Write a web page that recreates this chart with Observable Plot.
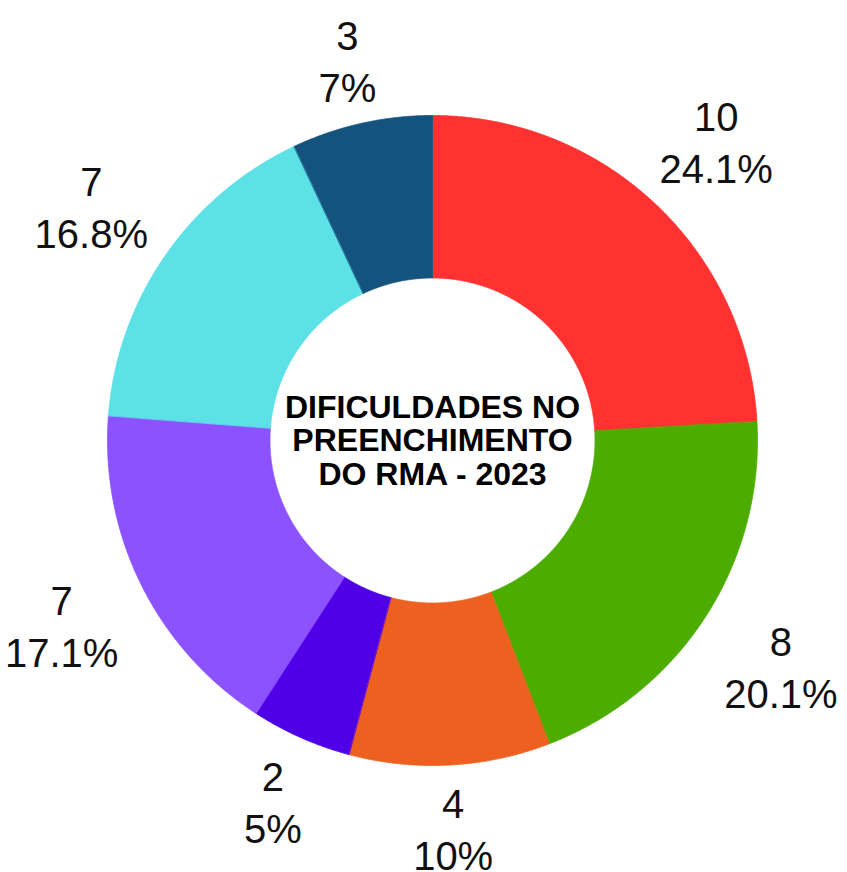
<!DOCTYPE html>
<html>
<head>
<meta charset="utf-8">
<script src="https://cdn.jsdelivr.net/npm/d3@7"></script>
<script src="https://cdn.jsdelivr.net/npm/@observablehq/plot@0.6"></script>
<style>
  html, body { margin: 0; padding: 0; background: #ffffff; }
  #chart svg { display: block; }
</style>
</head>
<body>
<div id="chart"></div>
<script>
// ---- Data ----
const sliceIds = ["s1", "s2", "s3", "s4", "s5", "s6", "s7"];
const counts = [10, 8, 4, 2, 7, 7, 3];
const percents = [24.1, 20.1, 10, 5, 17.1, 16.8, 7];
const percentLabels = ["24.1%", "20.1%", "10%", "5%", "17.1%", "16.8%", "7%"];
const sliceColors = ["#FF3131", "#4CAD00", "#EE6020", "#5000E6", "#8C52FF", "#5CE1E6", "#15537F"];
const titleLines = ["DIFICULDADES NO", "PREENCHIMENTO", "DO RMA - 2023"];

// ---- Layout ----
const W = 847, H = 872;
const R_PX = 325;               // outer radius in px
const INNER = 0.5;              // inner radius as fraction of outer
const LABEL_GAP_PX = 345;       // distance at which label boxes start
const LABEL_FONT = 40, LABEL_LINE = 52;
const FONT_FAMILY = "'Liberation Sans', Arial, sans-serif";

const total = d3.sum(percents);
let acc = 0;
const slices = percents.map((p, i) => {
  const a0 = acc / total * 2 * Math.PI;
  acc += p;
  const a1 = acc / total * 2 * Math.PI;
  return {id: sliceIds[i], a0, a1, color: sliceColors[i], count: counts[i], label: percentLabels[i]};
});

// polygon outline of each ring segment (geometry sampled along arcs)
const ringPoints = [];
for (const s of slices) {
  const n = Math.max(2, Math.ceil((s.a1 - s.a0) / 0.004));
  for (let k = 0; k <= n; k++) {
    const a = s.a0 + (s.a1 - s.a0) * k / n;
    ringPoints.push({id: s.id, color: s.color, x: Math.sin(a), y: Math.cos(a)});
  }
  for (let k = n; k >= 0; k--) {
    const a = s.a0 + (s.a1 - s.a0) * k / n;
    ringPoints.push({id: s.id, color: s.color, x: INNER * Math.sin(a), y: INNER * Math.cos(a)});
  }
}

// label positions: box placed just outside the ring along the mid-angle
const ctx = document.createElement("canvas").getContext("2d");
ctx.font = `${LABEL_FONT}px ${FONT_FAMILY}`;
const labels = slices.map(s => {
  const lines = [String(s.count), s.label];
  const hw = d3.max(lines, l => ctx.measureText(l).width) / 2;
  const hh = (LABEL_LINE + LABEL_FONT * 0.72) / 2;
  const m = (s.a0 + s.a1) / 2;
  const ux = Math.sin(m), uy = Math.cos(m);
  const dist = LABEL_GAP_PX + hw * Math.abs(ux) + hh * Math.abs(uy);
  return {x: ux * dist / R_PX, y: uy * dist / R_PX, text: lines.join("\n")};
});

const chart = Plot.plot({
  width: W,
  height: H,
  marginLeft: 107,
  marginRight: W - 107 - 2 * R_PX,
  marginTop: 115,
  marginBottom: H - 115 - 2 * R_PX,
  x: {domain: [-1, 1], axis: null},
  y: {domain: [-1, 1], axis: null},
  color: {type: "identity"},
  style: {background: "#ffffff", overflow: "visible"},
  marks: [
    Plot.line(ringPoints, {
      x: "x", y: "y", z: "id",
      fill: "color", stroke: "color", strokeWidth: 0.8,
      curve: "linear-closed"
    }),
    Plot.text(labels, {
      x: "x", y: "y", text: "text",
      fontSize: LABEL_FONT, lineHeight: LABEL_LINE / LABEL_FONT,
      fontFamily: FONT_FAMILY, fill: "#111111",
      textAnchor: "middle", lineAnchor: "middle"
    }),
    Plot.text([titleLines.join("\n")], {
      frameAnchor: "middle", text: d => d,
      fontSize: 32, lineHeight: 33.5 / 32, fontWeight: "bold",
      fontFamily: FONT_FAMILY, fill: "#000000",
      textAnchor: "middle", lineAnchor: "middle"
    })
  ]
});
document.getElementById("chart").appendChild(chart);
</script>
</body>
</html>
